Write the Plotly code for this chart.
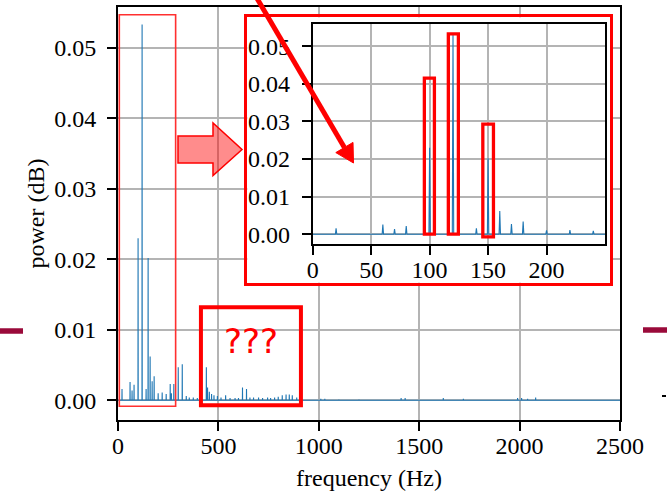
import plotly.graph_objects as go

W, H = 667, 491

# ---------------- data ----------------
peak_freq = [20, 60, 70, 80, 100, 120, 140, 150, 160, 170, 180, 200, 220, 240,
             260, 266, 278, 300, 320, 340, 355, 375, 395,
             440, 446, 455, 466, 478, 495, 513, 536, 558, 583, 600,
             620, 640, 657, 675, 700, 720, 745, 760, 780, 798, 818, 837, 853, 868, 890,
             1010, 1030, 1100, 1200, 1410, 1430, 1620, 1720, 1990, 2010, 2040, 2080]
peak_power = [0.0016, 0.0026, 0.0014, 0.0022, 0.0230, 0.0533, 0.0016, 0.0202, 0.0062, 0.0027,
              0.0034, 0.0010, 0.0011, 0.0009,
              0.0023, 0.0010, 0.0023, 0.0047, 0.0051, 0.0006, 0.0004, 0.0004, 0.0003,
              0.0047, 0.0018, 0.0012, 0.0009, 0.0007, 0.0006, 0.0004, 0.0007, 0.0003, 0.0003, 0.0003,
              0.0018, 0.0016, 0.0004, 0.0004, 0.0004, 0.0003, 0.0004, 0.0003, 0.0004, 0.0005, 0.0007,
              0.0008, 0.0008, 0.0007, 0.0004,
              0.0002, 0.0002, 0.0001, 0.0001, 0.0003, 0.0003, 0.0003, 0.0002, 0.0003, 0.0003, 0.0002,
              0.0004]

main_xticks = [0, 500, 1000, 1500, 2000, 2500]
y_ticks = [0.00, 0.01, 0.02, 0.03, 0.04, 0.05]
inset_xticks = [0, 50, 100, 150, 200]
x_label = "frequency (Hz)"
y_label = "power (dB)"
question_text = "???"
panel_text = "(b)"

# spectrum line built from the peaks (each peak drawn as a narrow spike)
half = 0.6
xs, ys = [0.0], [0.0]
for f, p in zip(peak_freq, peak_power):
    xs += [f - half, f, f + half]
    ys += [0.0, p, 0.0]
xs.append(2500.0)
ys.append(0.0)


def PX(x):
    return x / W


def PY(y):
    return 1 - y / H


SERIF = "Liberation Serif"
BLUE = "#1f77b4"
GRID = "#b4b4b4"

fig = go.Figure()
fig.add_trace(go.Scatter(x=xs, y=ys, mode="lines", line=dict(color=BLUE, width=1.1),
                         xaxis="x", yaxis="y", hoverinfo="skip"))
fig.add_trace(go.Scatter(x=[0.5], y=[0.5], mode="markers", marker=dict(opacity=0),
                         xaxis="x2", yaxis="y2", hoverinfo="skip"))
fig.add_trace(go.Scatter(x=xs, y=ys, mode="lines", line=dict(color=BLUE, width=1.1),
                         xaxis="x3", yaxis="y3", hoverinfo="skip"))

common = dict(showline=True, mirror=True, linecolor="black", linewidth=1.8,
              ticks="outside", ticklen=9, tickwidth=1.8, tickcolor="black",
              showgrid=True, gridcolor=GRID, gridwidth=1.6, zeroline=False, automargin=False,
              tickfont=dict(family=SERIF, size=24, color="black"))

fig.update_layout(
    width=W, height=H, margin=dict(l=0, r=0, t=0, b=0, autoexpand=False),
    paper_bgcolor="white", plot_bgcolor="white", showlegend=False,
    xaxis=dict(domain=[PX(118), PX(620)], range=[0, 2500], tickvals=main_xticks,
               anchor="y", ticklabelstandoff=-6,
               title=dict(text=x_label, font=dict(family=SERIF, size=24, color="black"), standoff=16),
               **common),
    yaxis=dict(domain=[PY(420), PY(7)], range=[-0.0028, 0.0558], tickvals=y_ticks,
               tickformat=".2f", anchor="x", ticklabelstandoff=6,
               title=dict(text=y_label, font=dict(family=SERIF, size=24, color="black"), standoff=3),
               **common),
    xaxis2=dict(domain=[PX(247.3), PX(610)], range=[0, 1], anchor="y2", showline=True, mirror=True,
                linecolor="red", linewidth=3.3, showgrid=False, zeroline=False, automargin=False,
                showticklabels=False, ticks=""),
    yaxis2=dict(domain=[PY(282.7), PY(17.3)], range=[0, 1], anchor="x2", showline=True, mirror=True,
                linecolor="red", linewidth=3.3, showgrid=False, zeroline=False, automargin=False,
                showticklabels=False, ticks=""),
    xaxis3=dict(domain=[PX(312.7), PX(605)], range=[0, 250], tickvals=inset_xticks,
                anchor="y3", ticklabelstandoff=-6, **common),
    yaxis3=dict(domain=[PY(244), PY(24)], range=[-0.0026, 0.0559], tickvals=y_ticks,
                tickformat=".2f", anchor="x3", ticklabelstandoff=7, **common),
)

shapes = []
# thin red box around the low-frequency region of the main plot
shapes.append(dict(type="rect", xref="x", yref="y", x0=6.5, x1=287, y0=-0.00085, y1=0.0547,
                   line=dict(color="#ff3030", width=1.6), layer="above"))
# "???" box
shapes.append(dict(type="rect", xref="x", yref="y", x0=413, x1=911, y0=-0.0007, y1=0.0132,
                   line=dict(color="red", width=4), layer="above"))
# inset highlight boxes
for x0, x1, y0, y1 in [(95.5, 104.1, 0.0000, 0.0415), (116.0, 124.6, 0.0000, 0.0533),
                       (145.5, 154.6, -0.0007, 0.0293)]:
    shapes.append(dict(type="rect", xref="x3", yref="y3", x0=x0, x1=x1, y0=y0, y1=y1,
                       line=dict(color="red", width=3.3), layer="above"))


def path(points):
    return "M " + " L ".join(f"{PX(x):.5f},{PY(y):.5f}" for x, y in points) + " Z"


# pink block arrow
shapes.append(dict(type="path", xref="paper", yref="paper",
                   path=path([(178, 136), (213, 136), (213, 123), (242, 149.5),
                              (213, 175.5), (213, 163), (178, 163)]),
                   fillcolor="rgba(255,0,0,0.45)", line=dict(color="red", width=1.5), layer="above"))
# red diagonal arrow
shapes.append(dict(type="line", xref="paper", yref="paper", x0=PX(252.1), y0=PY(-10),
                   x1=PX(344.4), y1=PY(147.5), line=dict(color="red", width=5), layer="above"))
shapes.append(dict(type="path", xref="paper", yref="paper",
                   path=path([(353.5, 163), (353, 142.4), (335.8, 152.6)]),
                   fillcolor="red", line=dict(color="red", width=1), layer="above"))
# slide fragments at the edges
MAROON = "#9a0a3a"
shapes.append(dict(type="line", xref="paper", yref="paper", x0=PX(0), x1=PX(23), y0=PY(331), y1=PY(331),
                   line=dict(color=MAROON, width=5.5), layer="above"))
shapes.append(dict(type="line", xref="paper", yref="paper", x0=PX(643), x1=PX(667), y0=PY(330), y1=PY(330),
                   line=dict(color=MAROON, width=5.5), layer="above"))
shapes.append(dict(type="line", xref="paper", yref="paper", x0=PX(662), x1=PX(666), y0=PY(396), y1=PY(396),
                   line=dict(color="black", width=2), layer="above"))
fig.update_layout(shapes=shapes)

fig.add_annotation(text=question_text, xref="paper", yref="paper", x=PX(251), y=PY(341),
                   xanchor="center", yanchor="middle", showarrow=False,
                   font=dict(family="DejaVu Sans", size=34, color="red"))
fig.add_annotation(text=panel_text, xref="paper", yref="paper", x=PX(396), y=PY(1),
                   xanchor="center", yanchor="bottom", showarrow=False,
                   font=dict(family=SERIF, size=24, color="#333333"))

fig.write_html("out.html")
